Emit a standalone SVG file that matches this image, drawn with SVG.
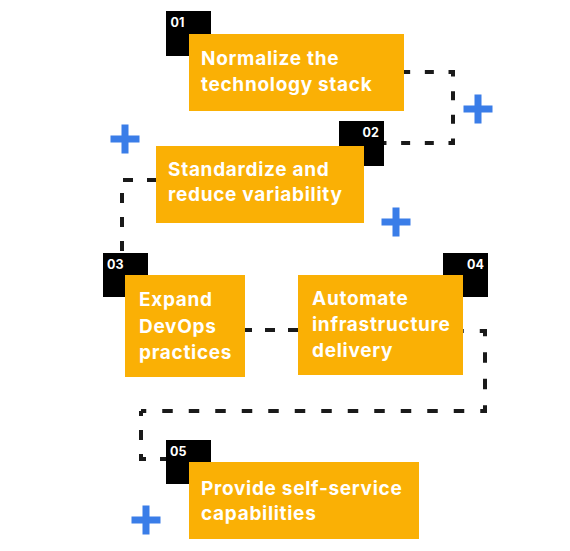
<svg xmlns="http://www.w3.org/2000/svg" width="570" height="551" viewBox="0 0 570 551">
<style>
.bg{fill:#ffffff}
.tag{fill:#000000}
.box{fill:#FAB005}
.t{font-family:Inter,"Liberation Sans",Arial,sans-serif;font-weight:700;font-size:19px;letter-spacing:0.7px;fill:#ffffff}
.n{font-family:Inter,"Liberation Sans",Arial,sans-serif;font-weight:700;font-size:12.5px;fill:#ffffff}
.c{fill:none;stroke:#1a1a1a;stroke-width:4;stroke-linecap:butt;stroke-linejoin:miter}
.plus{fill:#3A7DE8}
</style>
<defs>
<path id="plusShape" d="M-3.5,-14.5h7v11h11v7h-11v11h-7v-11h-11v-7h11z"/>
</defs>
<rect class="bg" x="0" y="0" width="570" height="551"/>
<g id="connectors">
<path class="c" d="M404,72 H453 V143 H384" stroke-dasharray="9 14.67" stroke-dashoffset="2.83"/>
<path class="c" d="M122,253 V180 H156" stroke-dasharray="10 14" stroke-dashoffset="-2"/>
<path class="c" d="M245,330 H298" stroke-dasharray="10 13" stroke-dashoffset="3"/>
<path class="c" d="M463,331 H485 V411 H141" stroke-dasharray="10.5 16" stroke-dashoffset="9.75"/>
<path class="c" d="M141,411 V459 H166" stroke-dasharray="10 14" stroke-dashoffset="5"/>
</g>
<g id="plus-marks">
<use href="#plusShape" class="plus" x="478" y="109"/>
<use href="#plusShape" class="plus" x="125" y="139"/>
<use href="#plusShape" class="plus" x="396" y="222"/>
<use href="#plusShape" class="plus" x="146" y="520"/>
</g>
<g id="node1">
<rect class="tag" x="166" y="11" width="45" height="45"/>
<text class="n" x="170.5" y="27">01</text>
<rect class="box" x="189" y="34" width="215" height="77"/>
<text class="t" x="201" y="65">Normalize the</text>
<text class="t" x="201" y="91">technology stack</text>
</g>
<g id="node2">
<rect class="tag" x="339" y="121" width="45" height="45"/>
<text class="n" x="362.5" y="137">02</text>
<rect class="box" x="156" y="146" width="208" height="77"/>
<text class="t" x="168" y="176">Standardize and</text>
<text class="t" x="168" y="201">reduce variability</text>
</g>
<g id="node3">
<rect class="tag" x="103" y="253" width="45" height="44"/>
<text class="n" x="107" y="268.5">03</text>
<rect class="box" x="125" y="275" width="120" height="102"/>
<text class="t" x="139" y="306">Expand</text>
<text class="t" x="139" y="333">DevOps</text>
<text class="t" x="139" y="359">practices</text>
</g>
<g id="node4">
<rect class="tag" x="443" y="253" width="45" height="44"/>
<text class="n" x="467" y="268.5">04</text>
<rect class="box" x="298" y="275" width="165" height="100"/>
<text class="t" x="312" y="305">Automate</text>
<text class="t" x="312" y="331">infrastructure</text>
<text class="t" x="312" y="357">delivery</text>
</g>
<g id="node5">
<rect class="tag" x="166" y="440" width="45" height="44"/>
<text class="n" x="170" y="455.5">05</text>
<rect class="box" x="189" y="462" width="230" height="77"/>
<text class="t" x="201" y="495">Provide self-service</text>
<text class="t" x="201" y="520">capabilities</text>
</g>
</svg>
